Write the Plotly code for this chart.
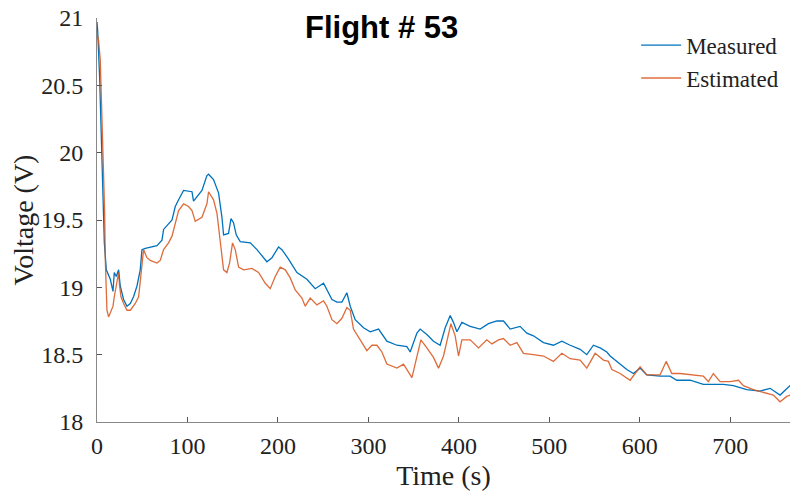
import plotly.graph_objects as go

# Measured voltage (s, V)
t_meas = [0, 0.7, 2.9, 4.8, 6.6, 8.1, 10.3, 14.7, 17.7, 19.1, 21.3, 23.9, 25.7, 29.4, 33.1, 36.8,
          40.4, 44.2, 47.8, 49.7, 53.4, 58.9, 66.3, 71.8, 73.6, 82.9, 86.5, 90.2, 95.7, 105.0,
          106.7, 116.0, 121.5, 123.3, 128.8, 134.4, 138.1, 139.9, 145.4, 148.1, 150.9, 153.9,
          158.3, 169.4, 176.8, 187.8, 193.4, 200.7, 204.4, 211.7, 221.0, 232.0, 241.2, 250.4,
          254.1, 259.7, 265.2, 270.7, 276.2, 279.9, 285.4, 294.6, 302.0, 311.2, 320.4, 331.5,
          342.5, 346.2, 353.6, 357.2, 364.6, 371.9, 379.3, 384.9, 390.4, 394.0, 397.8, 403.3,
          412.5, 423.5, 432.7, 442.0, 449.3, 456.7, 467.7, 475.1, 482.4, 493.5, 504.5, 513.8,
          523.0, 534.0, 541.4, 548.7, 556.1, 563.5, 567.2, 574.6, 585.6, 592.9, 600.3, 607.7,
          622.4, 633.4, 640.9, 655.6, 670.3, 681.3, 692.4, 703.4, 718.2, 732.9, 744.0, 755.0,
          766.1, 773.8]
v_meas = [20.97, 20.91, 20.56, 20.07, 19.57, 19.33, 19.13, 19.06, 18.97, 19.11, 19.08, 19.13,
          19.01, 18.91, 18.86, 18.88, 18.93, 19.01, 19.13, 19.28, 19.29, 19.30, 19.31, 19.35,
          19.43, 19.50, 19.60, 19.65, 19.72, 19.71, 19.64, 19.72, 19.83, 19.84, 19.80, 19.70,
          19.52, 19.39, 19.40, 19.51, 19.48, 19.39, 19.34, 19.33, 19.28, 19.19, 19.22, 19.30,
          19.28, 19.21, 19.11, 19.06, 18.99, 19.03, 18.98, 18.91, 18.89, 18.89, 18.96, 18.86,
          18.76, 18.70, 18.67, 18.69, 18.60, 18.57, 18.56, 18.52, 18.66, 18.69, 18.65, 18.60,
          18.57, 18.70, 18.79, 18.74, 18.67, 18.74, 18.71, 18.69, 18.73, 18.75, 18.75, 18.69,
          18.71, 18.66, 18.64, 18.59, 18.57, 18.60, 18.57, 18.54, 18.50, 18.57, 18.55, 18.52,
          18.49, 18.45, 18.39, 18.36, 18.40, 18.35, 18.34, 18.34, 18.31, 18.31, 18.28, 18.28,
          18.28, 18.27, 18.24, 18.23, 18.25, 18.20, 18.27, 18.20]

# Estimated voltage (s, V)
t_est = [0, 1.8, 3.6, 5.5, 7.3, 8.4, 9.2, 11.0, 12.8, 15.5, 17.7, 19.1, 21.3, 23.9, 25.0, 26.5,
         29.4, 33.1, 36.8, 42.3, 46.0, 47.8, 49.7, 51.5, 55.2, 58.9, 66.3, 69.9, 73.6, 79.1,
         82.9, 86.5, 90.2, 95.7, 101.2, 105.0, 108.6, 116.0, 121.5, 123.3, 128.8, 132.6, 136.2,
         139.9, 143.6, 146.5, 149.8, 152.8, 156.5, 162.0, 171.3, 178.6, 186.0, 191.5, 197.0,
         202.5, 208.1, 213.6, 219.1, 226.5, 230.2, 235.7, 243.1, 250.4, 254.1, 259.7, 265.2,
         270.7, 276.2, 279.9, 283.5, 290.9, 298.3, 303.9, 309.4, 314.9, 320.4, 331.5, 338.8,
         348.1, 353.6, 358.0, 364.6, 371.9, 377.5, 383.0, 387.1, 391.2, 395.9, 399.6, 403.3,
         412.5, 421.7, 430.9, 436.5, 443.8, 449.3, 456.7, 464.1, 471.4, 482.4, 493.5, 504.5,
         513.8, 523.0, 534.0, 541.4, 550.6, 559.8, 565.3, 569.1, 578.2, 589.3, 594.8, 600.3,
         607.7, 622.4, 629.1, 635.4, 644.5, 659.2, 670.3, 675.8, 681.3, 688.7, 699.8, 709.0,
         714.5, 725.5, 736.6, 747.6, 755.0, 762.4, 766.1, 773.8]
v_est = [20.89, 20.83, 20.69, 20.31, 19.94, 19.57, 19.20, 18.83, 18.78, 18.83, 18.86, 18.93,
         19.01, 19.11, 19.01, 18.93, 18.88, 18.83, 18.83, 18.88, 18.93, 19.06, 19.18, 19.28,
         19.22, 19.20, 19.18, 19.20, 19.28, 19.33, 19.38, 19.48, 19.57, 19.62, 19.60, 19.57,
         19.49, 19.52, 19.62, 19.71, 19.65, 19.55, 19.35, 19.13, 19.11, 19.18, 19.33, 19.28,
         19.15, 19.13, 19.14, 19.11, 19.03, 18.99, 19.08, 19.15, 19.13, 19.07, 18.98, 18.92,
         18.86, 18.92, 18.87, 18.90, 18.86, 18.76, 18.73, 18.77, 18.85, 18.83, 18.69, 18.61,
         18.53, 18.57, 18.57, 18.52, 18.43, 18.40, 18.43, 18.33, 18.48, 18.61, 18.55, 18.48,
         18.40, 18.49, 18.61, 18.73, 18.64, 18.49, 18.61, 18.61, 18.55, 18.61, 18.58, 18.61,
         18.62, 18.57, 18.59, 18.51, 18.50, 18.49, 18.45, 18.51, 18.47, 18.46, 18.40, 18.51,
         18.46, 18.45, 18.39, 18.36, 18.31, 18.36, 18.41, 18.35, 18.35, 18.45, 18.36, 18.36,
         18.35, 18.34, 18.30, 18.36, 18.30, 18.30, 18.31, 18.27, 18.24, 18.22, 18.20, 18.15,
         18.19, 18.20, 18.11]

x_ticks = [0, 100, 200, 300, 400, 500, 600, 700]
y_ticks = [18, 18.5, 19, 19.5, 20, 20.5, 21]
y_tick_text = ["18", "18.5", "19", "19.5", "20", "20.5", "21"]

serif = "Liberation Serif, Times New Roman, serif"

fig = go.Figure()
fig.add_trace(go.Scatter(x=t_meas, y=v_meas, mode="lines", name="Measured",
                         line=dict(color="#0072BD", width=1.3)))
fig.add_trace(go.Scatter(x=t_est, y=v_est, mode="lines", name="Estimated",
                         line=dict(color="#D95319", width=1.3), opacity=0.85))

fig.update_layout(
    width=782, height=483,
    margin=dict(l=89, r=0, t=10, b=69),
    paper_bgcolor="white", plot_bgcolor="white",
    font=dict(family=serif, size=24, color="#222"),
    showlegend=True,
    legend=dict(x=0.778, y=0.986, xanchor="left", yanchor="top",
                bgcolor="rgba(0,0,0,0)", font=dict(family=serif, size=23, color="#222"),
                tracegroupgap=0, itemwidth=40),
    annotations=[dict(text="<b>Flight # 53</b>", x=0.411, y=1.025, xref="paper", yref="paper",
                      xanchor="center", yanchor="top", showarrow=False,
                      font=dict(family="Liberation Sans, Arial, sans-serif", size=31, color="black"))],
)
fig.update_xaxes(range=[0, 766], tickvals=x_ticks, ticks="inside", ticklen=5, tickcolor="#555",
                 showline=True, linecolor="#888", linewidth=1, showgrid=False, zeroline=False,
                 automargin=False, ticklabelstandoff=2, ticklabeloverflow="allow",
                 title=dict(text="Time (s)", font=dict(size=28), standoff=19))
fig.update_yaxes(range=[18, 21], tickvals=y_ticks, ticktext=y_tick_text, ticks="inside",
                 ticklen=5, tickcolor="#555", showline=True, linecolor="#888", linewidth=1,
                 showgrid=False, zeroline=False, automargin=False, ticklabelstandoff=8,
                 ticklabeloverflow="allow",
                 title=dict(text="Voltage (V)", font=dict(size=28), standoff=3))

fig.write_html("out.html")
